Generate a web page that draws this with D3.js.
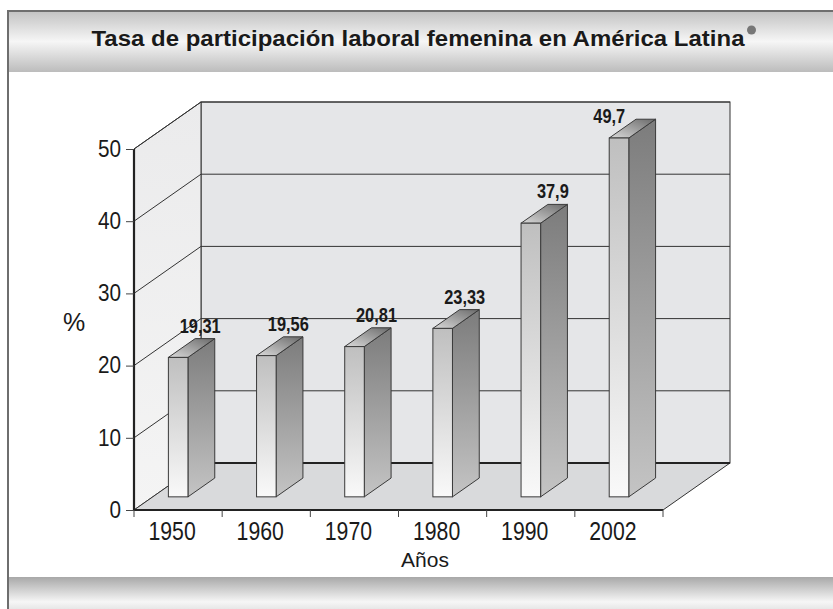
<!DOCTYPE html>
<html>
<head>
<meta charset="utf-8">
<script src="https://cdn.jsdelivr.net/npm/d3@7"></script>
<style>
  body { margin: 0; background: #fff; }
  svg { display: block; }
</style>
</head>
<body>
<svg width="833" height="609"></svg>
<script>
const years = ['1950', '1960', '1970', '1980', '1990', '2002'];
const values = [19.31, 19.56, 20.81, 23.33, 37.9, 49.7];
const valueLabels = ['19,31', '19,56', '20,81', '23,33', '37,9', '49,7'];
const yTicks = [0, 10, 20, 30, 40, 50];

const font = "'Liberation Sans', Arial, Helvetica, sans-serif";

const svg = d3.select('svg');
const defs = svg.append('defs');

// squeeze text horizontally (the original uses a condensed face)
function condense(sel, k) {
  sel.each(function() {
    const len = this.getComputedTextLength();
    d3.select(this).attr('textLength', len * k).attr('lengthAdjust', 'spacingAndGlyphs');
  });
}

function vGrad(id, stops) {
  const g = defs.append('linearGradient').attr('id', id)
    .attr('x1', 0).attr('y1', 0).attr('x2', 0).attr('y2', 1);
  stops.forEach(s => g.append('stop').attr('offset', s[0]).attr('stop-color', s[1]));
}
vGrad('band', [[0, '#c2c2c2'], [0.5, '#f6f6f6'], [1, '#bcbcbc']]);
vGrad('band2', [[0, '#a8a8a8'], [0.62, '#f6f6f6'], [1, '#d6d6d6']]);
vGrad('front', [[0, '#bfbfbf'], [1, '#f9f9f9']]);
vGrad('side', [[0, '#7c7c7c'], [1, '#c4c4c4']]);
vGrad('sidewall', [[0, '#ebebec'], [1, '#f4f4f4']]);
const tg = defs.append('linearGradient').attr('id', 'top')
  .attr('x1', 0).attr('y1', 1).attr('x2', 1).attr('y2', 0);
tg.append('stop').attr('offset', 0).attr('stop-color', '#dadada');
tg.append('stop').attr('offset', 1).attr('stop-color', '#6a6a6a');

// frame and bands
svg.append('rect').attr('x', 8).attr('y', 11).attr('width', 830).attr('height', 61).attr('fill', 'url(#band)');
svg.append('rect').attr('x', 8).attr('y', 577).attr('width', 830).attr('height', 40).attr('fill', 'url(#band2)');
svg.append('line').attr('x1', 8).attr('x2', 833).attr('y1', 11).attr('y2', 11).attr('stroke', '#6e6e6e').attr('stroke-width', 2);
svg.append('line').attr('x1', 8).attr('x2', 8).attr('y1', 10).attr('y2', 609).attr('stroke', '#6e6e6e').attr('stroke-width', 2);

const title = svg.append('text')
  .attr('x', 418).attr('y', 46)
  .attr('text-anchor', 'middle')
  .attr('font-family', font).attr('font-weight', 'bold').attr('font-size', 22)
  .attr('fill', '#1a1a1a')
  .attr('textLength', 653).attr('lengthAdjust', 'spacingAndGlyphs')
  .text('Tasa de participación laboral femenina en América Latina');
svg.append('circle').attr('cx', 418 + 653 / 2 + 7).attr('cy', 30).attr('r', 4.5).attr('fill', '#777');

// scales
const x = d3.scaleBand().domain(years).range([134, 663]);
const y = d3.scaleLinear().domain([0, 50]).range([510, 149]);
const DX = 67, DY = 47;             // depth of the 3d box
const bf = 0.28, bb = 0.68;         // bar front / back as fraction of depth
const x0 = x.range()[0], x1 = x.range()[1];
const yTop = y(50), yBase = y(0);

const g = svg.append('g');

// back wall
g.append('rect').attr('x', x0 + DX).attr('y', yTop - DY)
  .attr('width', x1 - x0).attr('height', yBase - yTop)
  .attr('fill', '#e5e6e8').attr('stroke', '#333').attr('stroke-width', 1);

// side wall
g.append('path')
  .attr('d', `M${x0},${yTop}L${x0 + DX},${yTop - DY}L${x0 + DX},${yBase - DY}L${x0},${yBase}Z`)
  .attr('fill', 'url(#sidewall)').attr('stroke', '#333').attr('stroke-width', 1);

// floor
g.append('path')
  .attr('d', `M${x0},${yBase}L${x1},${yBase}L${x1 + DX},${yBase - DY}L${x0 + DX},${yBase - DY}Z`)
  .attr('fill', '#d9dadc').attr('stroke', '#333').attr('stroke-width', 1);
g.append('line').attr('x1', x0 + DX).attr('x2', x1 + DX).attr('y1', yBase - DY).attr('y2', yBase - DY)
  .attr('stroke', '#222').attr('stroke-width', 2);

// gridlines
yTicks.filter(v => v > 0).forEach(v => {
  g.append('line').attr('x1', x0 + DX).attr('x2', x1 + DX)
    .attr('y1', y(v) - DY).attr('y2', y(v) - DY)
    .attr('stroke', '#333').attr('stroke-width', 1);
  g.append('line').attr('x1', x0).attr('x2', x0 + DX)
    .attr('y1', y(v)).attr('y2', y(v) - DY)
    .attr('stroke', '#333').attr('stroke-width', 1);
});

// axes
const yAxis = svg.append('g').attr('transform', `translate(${x0},0)`)
  .call(d3.axisLeft(y).tickValues(yTicks).tickSize(8).tickPadding(5));
yAxis.select('.domain').attr('stroke', '#222').attr('stroke-width', 2.2).attr('d', `M0,${yTop}V${yBase}`);
yAxis.selectAll('.tick line').attr('stroke', '#444');
yAxis.selectAll('.tick text').attr('font-family', font).attr('font-size', 23).attr('fill', '#1a1a1a')
  .call(condense, 0.9);

const xAxis = svg.append('g').attr('transform', `translate(0,${yBase})`)
  .call(d3.axisBottom(x).tickSize(0).tickPadding(0));
xAxis.select('.domain').attr('stroke', '#222').attr('stroke-width', 2.2).attr('d', `M${x0},0H${x1}`);
xAxis.selectAll('.tick text').attr('font-family', font).attr('font-size', 25).attr('fill', '#1a1a1a')
  .attr('dy', null).attr('y', 30).attr('x', -6)
  .call(condense, 0.85);
// tick marks on band edges
xAxis.selectAll('.edge').data(years.concat(['end'])).enter().append('line')
  .attr('x1', (d, i) => i < years.length ? x(d) : x1)
  .attr('x2', (d, i) => i < years.length ? x(d) : x1)
  .attr('y1', 0).attr('y2', 7).attr('stroke', '#444').attr('stroke-width', 1);

svg.append('text').attr('x', 425).attr('y', 567).attr('text-anchor', 'middle')
  .attr('font-family', font).attr('font-size', 21).attr('fill', '#1a1a1a').text('Años');
svg.append('text').attr('x', 74).attr('y', 331).attr('text-anchor', 'middle')
  .attr('font-family', font).attr('font-size', 25).attr('fill', '#1a1a1a').text('%');

// bars
const bw = x.bandwidth();
const fdy = DY * bf;
const sdx = DX * (bb - bf), sdy = DY * (bb - bf);
const bars = svg.append('g');
years.forEach((yr, i) => {
  const v = values[i];
  const lx = x(yr) + bw * 0.39;
  const rx = x(yr) + bw * 0.612;
  const ty = y(v) - fdy;
  const by = yBase - fdy;
  bars.append('path')
    .attr('d', `M${rx},${ty}L${rx + sdx},${ty - sdy}L${rx + sdx},${by - sdy}L${rx},${by}Z`)
    .attr('fill', 'url(#side)').attr('stroke', '#3a3a3a').attr('stroke-width', 1);
  bars.append('path')
    .attr('d', `M${lx},${ty}L${lx + sdx},${ty - sdy}L${rx + sdx},${ty - sdy}L${rx},${ty}Z`)
    .attr('fill', 'url(#top)').attr('stroke', '#3a3a3a').attr('stroke-width', 1);
  bars.append('rect').attr('x', lx).attr('y', ty).attr('width', rx - lx).attr('height', by - ty)
    .attr('fill', 'url(#front)').attr('stroke', '#3a3a3a').attr('stroke-width', 1);

  let labX = (lx + rx) / 2 + 22;
  let labY = ty - sdy - 6;
  if (labY - 14 < yTop - DY) {   // no room above the wall: place beside the bar top
    labX = lx;
    labY = ty - 15;
  }
  bars.append('text').attr('x', labX).attr('y', labY).attr('text-anchor', 'middle')
    .attr('font-family', font).attr('font-weight', 'bold').attr('font-size', 19.5)
    .attr('fill', '#1a1a1a')
    .text(valueLabels[i])
    .call(condense, 0.84);
});
</script>
</body>
</html>
